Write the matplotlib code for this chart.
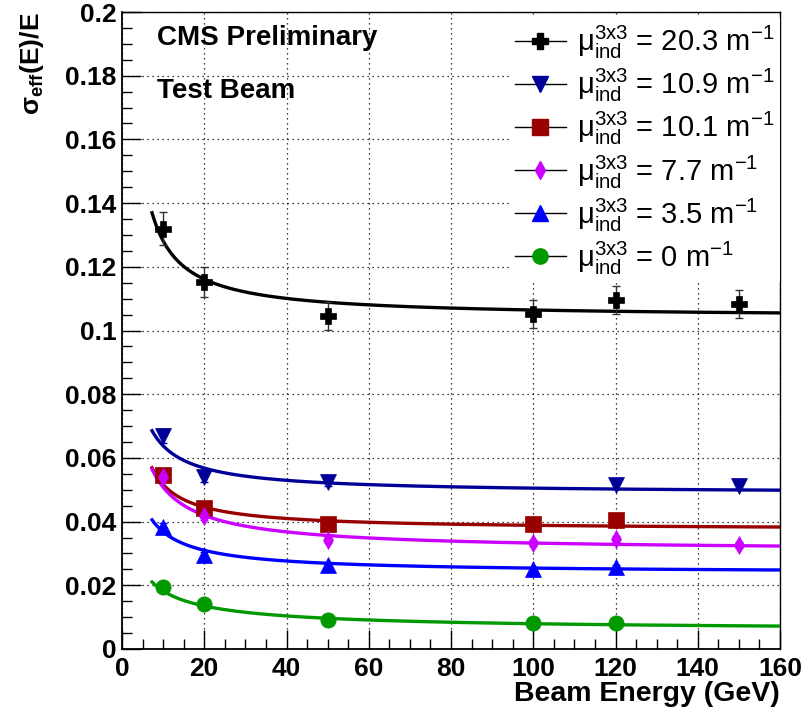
"""
sigma_eff vs beam energy for crystals with different induced absorption.
ROOT-style CMS test-beam plot redone in matplotlib.
"""

import numpy as np
import matplotlib
matplotlib.use("Agg")
import matplotlib.pyplot as plt
from matplotlib.lines import Line2D
from matplotlib.ticker import MultipleLocator

plt.rcParams["font.family"] = ["Liberation Sans", "DejaVu Sans"]
plt.rcParams["mathtext.fontset"] = "custom"
plt.rcParams["mathtext.rm"] = "Liberation Sans"
plt.rcParams["mathtext.it"] = "Liberation Sans:italic"
plt.rcParams["mathtext.bf"] = "Liberation Sans:bold"
plt.rcParams["mathtext.default"] = "regular"

# ─── Data ─────────────────────────────────────────────────────────────────────
mu_labels = ["20.3", "10.9", "10.1", "7.7", "3.5", "0"]

e_203 = [10, 20, 50, 100, 120, 150]
y_203 = [0.1320, 0.1152, 0.1046, 0.1052, 0.1097, 0.1083]
err_203 = [0.0052, 0.0046, 0.0044, 0.0044, 0.0044, 0.0044]

e_109 = [10, 20, 50, 120, 150]
y_109 = [0.0670, 0.0540, 0.0524, 0.0515, 0.0513]
err_109 = [0.0022, 0.0015, 0.0012, 0.0012, 0.0012]

e_101 = [10, 20, 50, 100, 120]
y_101 = [0.0546, 0.0443, 0.0392, 0.0392, 0.0405]
err_101 = [0.0015, 0.0012, 0.0010, 0.0010, 0.0010]

e_77 = [10, 20, 50, 100, 120, 150]
y_77 = [0.0540, 0.0418, 0.0342, 0.0333, 0.0345, 0.0327]
err_77 = [0.0015, 0.0012, 0.0010, 0.0010, 0.0010, 0.0010]

e_35 = [10, 20, 50, 100, 120]
y_35 = [0.0383, 0.0295, 0.0263, 0.0251, 0.0257]
err_35 = [0.0012, 0.0010, 0.0008, 0.0008, 0.0008]

e_0 = [10, 20, 50, 100, 120]
y_0 = [0.0195, 0.0141, 0.0091, 0.0082, 0.0082]
err_0 = [0.0008, 0.0006, 0.0005, 0.0005, 0.0005]

# fit parameters: sigma/E = S/sqrt(E) (+) N/E (+) C
fit_S = [0.225, 0.130, 0.1035, 0.128, 0.0887, 0.0547]
fit_N = [0.232, 0.0, 0.141, 0.0, 0.0, 0.0]
fit_C = [0.104, 0.0488, 0.0374, 0.0307, 0.0238, 0.00575]
FIT_RANGE = (7.3, 160)

# ─── Styles ───────────────────────────────────────────────────────────────────
colors  = ["#000000", "#000099", "#990000", "#cc00ff", "#0000ff", "#009900"]
markers = ["P", "v", "s", "d", "^", "o"]
msizes  = [12, 11, 11, 9, 11, 11]


def resolution(e, s, n, c):
    e = np.asarray(e, dtype=float)
    return np.sqrt(s ** 2 / e + n ** 2 / e ** 2 + c ** 2)


series = [
    (e_203, y_203, err_203),
    (e_109, y_109, err_109),
    (e_101, y_101, err_101),
    (e_77, y_77, err_77),
    (e_35, y_35, err_35),
    (e_0, y_0, err_0),
]

fig = plt.figure(figsize=(8.11, 7.19), dpi=100)
ax = fig.add_axes([122 / 811, 70 / 719, 658 / 811, 637 / 719])

# grid at major ticks only
ax.grid(True, which="major", color="black", linestyle=(0, (1, 3)), linewidth=0.9)
ax.set_axisbelow(True)

e_fit = np.linspace(FIT_RANGE[0], FIT_RANGE[1], 400)
handles = []
for i, (e, y, err) in enumerate(series):
    c = colors[i]
    ax.plot(e_fit, resolution(e_fit, fit_S[i], fit_N[i], fit_C[i]),
            color=c, linewidth=2.4, zorder=3)
    ecol = "#333333" if i == 0 else c
    ax.errorbar(e, y, yerr=err, fmt="none", ecolor=ecol, elinewidth=1.0,
                capsize=3, capthick=1.0, zorder=4)
    ax.plot(e, y, linestyle="none", marker=markers[i], markersize=msizes[i],
            markerfacecolor=c, markeredgecolor=c, markeredgewidth=0.5, zorder=5)
    handles.append(Line2D([], [], color="black", linewidth=1.0,
                          marker=markers[i], markersize=msizes[i],
                          markerfacecolor=c, markeredgecolor=c))

labels = [r"$μ^{3x3}_{ind}$ = " + m + r" m$^{-1}$" for m in mu_labels]
leg = ax.legend(handles, labels, loc="upper right", bbox_to_anchor=(1.0, 0.99),
                fontsize=21, frameon=True, facecolor="white", edgecolor="none",
                framealpha=1.0, fancybox=False, handlelength=1.75,
                handletextpad=0.38, labelspacing=0.2, borderpad=0.2,
                borderaxespad=0.0)
leg.set_zorder(6)

ax.text(0.053, 0.948, "CMS Preliminary", transform=ax.transAxes,
        fontsize=20, fontweight="bold", ha="left", va="baseline")
ax.text(0.053, 0.865, "Test Beam", transform=ax.transAxes,
        fontsize=20, fontweight="bold", ha="left", va="baseline")

ax.set_xlim(0, 160)
ax.set_ylim(0, 0.2)
ax.xaxis.set_major_locator(MultipleLocator(20))
ax.xaxis.set_minor_locator(MultipleLocator(5))
ax.yaxis.set_major_locator(MultipleLocator(0.02))
ax.yaxis.set_minor_locator(MultipleLocator(0.005))
ax.yaxis.set_major_formatter(plt.FuncFormatter(lambda v, p: f"{v:g}"))

ax.tick_params(which="both", direction="in", top=False, right=False, width=1.0)
ax.tick_params(which="major", length=14, labelsize=19, pad=4)
ax.tick_params(axis="x", which="major", pad=6)
ax.tick_params(which="minor", length=7)
for lab in ax.get_xticklabels() + ax.get_yticklabels():
    lab.set_fontweight("bold")
for sp in ax.spines.values():
    sp.set_linewidth(1.3)
ax.spines["top"].set_linewidth(1.0)
ax.spines["right"].set_linewidth(1.0)

ax.set_xlabel("Beam Energy (GeV)", fontsize=20.5, fontweight="bold", loc="right",
              labelpad=0)
ax.set_ylabel(r"$σ_{eff}$(E)/E", fontsize=19, fontweight="bold", loc="top",
              labelpad=14)

fig.savefig("out.png", dpi=100)
plt.close(fig)
